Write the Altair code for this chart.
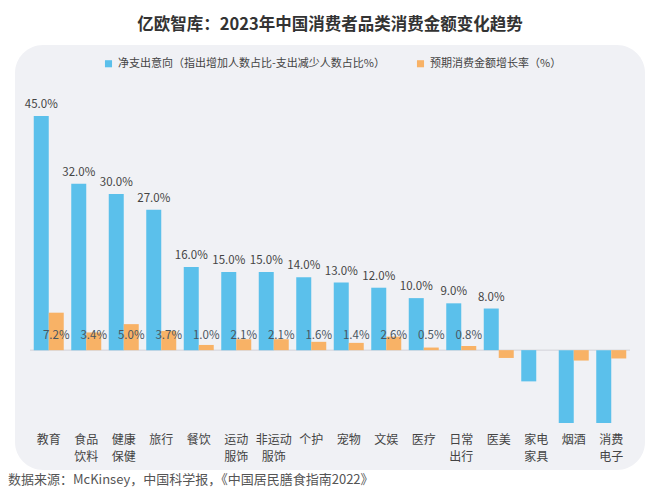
import altair as alt
import pandas as pd

categories = ["教育", "食品饮料", "健康保健", "旅行", "餐饮", "运动服饰", "非运动服饰", "个护",
              "宠物", "文娱", "医疗", "日常出行", "医美", "家电家具", "烟酒", "消费电子"]
net_intent = [45.0, 32.0, 30.0, 27.0, 16.0, 15.0, 15.0, 14.0, 13.0, 12.0, 10.0, 9.0, 8.0, -6.0, -14.0, -14.0]
growth_rate = [7.2, 3.4, 5.0, 3.7, 1.0, 2.1, 2.1, 1.6, 1.4, 2.6, 0.5, 0.8, -1.5, None, -2.0, -1.6]
series_names = ["净支出意向（指出增加人数占比-支出减少人数占比%）", "预期消费金额增长率（%）"]
colors = ["#5BC0EB", "#F8B266"]
title_text = "亿欧智库：2023年中国消费者品类消费金额变化趋势"
source_text = "数据来源：McKinsey，中国科学报，《中国居民膳食指南2022》"

FONT = "Noto Sans CJK SC"

rows = []
for c, a, b in zip(categories, net_intent, growth_rate):
    rows.append({"category": c, "series": series_names[0], "value": a,
                 "label": f"{a:.1f}%"})
    if b is not None:
        rows.append({"category": c, "series": series_names[1], "value": b,
                     "label": f"{b:.1f}%"})
df = pd.DataFrame(rows)

one = pd.DataFrame({"y0": [0]})

label_expr = ("datum.label == '非运动服饰' ? ['非运动', '服饰'] : "
              "(length(datum.label) == 4 ? [substring(datum.label, 0, 2), substring(datum.label, 2, 4)] : datum.label)")

x_enc = alt.X("category:N", sort=categories,
              scale=alt.Scale(paddingInner=0.2, paddingOuter=0.1),
              axis=alt.Axis(title=None, orient="bottom", domain=False, ticks=False,
                            labelAngle=0, labelExpr=label_expr, labelFontSize=12,
                            labelColor="#444444", labelFont=FONT, labelPadding=11,
                            labelBaseline="top", labelLineHeight=17, grid=False,
                            zindex=2))
y_scale = alt.Scale(domain=[-14, 45], nice=False, zero=False)
y_enc = alt.Y("value:Q", scale=y_scale, axis=None)
color_enc = alt.Color("series:N", sort=series_names,
                      scale=alt.Scale(domain=series_names, range=colors),
                      legend=alt.Legend(title=None, orient="none", legendX=73, legendY=-58,
                                        direction="horizontal", symbolType="square",
                                        symbolSize=50, labelFontSize=11, labelFont=FONT,
                                        labelColor="#444444", labelLimit=500,
                                        columnPadding=30, symbolStrokeWidth=0))

BW = 15
OFF = 7.5

panel = alt.Chart(one).mark_rect(color="#F0F1F5", cornerRadius=28).encode(
    x=alt.value(-15), x2=alt.value(615), y=alt.value(-71), y2=alt.value(354)
)

zero_rule = alt.Chart(one).mark_rule(color="#D3D3D8", strokeWidth=1).encode(
    y=alt.Y("y0:Q", scale=y_scale, axis=None)
)

base = alt.Chart(df)
is_blue = alt.datum.series == series_names[0]
is_orange = alt.datum.series == series_names[1]

blue_bars = base.transform_filter(is_blue).mark_bar(width=BW, xOffset=-OFF).encode(
    x=x_enc, y=y_enc, color=color_enc
)
orange_bars = base.transform_filter(is_orange).mark_bar(width=BW, xOffset=OFF).encode(
    x=x_enc, y=y_enc, color=color_enc
)

blue_labels = base.transform_filter(is_blue & (alt.datum.value > 0)).mark_text(
    baseline="bottom", dy=-6, dx=-OFF, fontSize=11.5, font=FONT, color="#444444"
).encode(x=x_enc, y=y_enc, text="label:N")

orange_labels = base.transform_filter(is_orange & (alt.datum.value > 0)).mark_text(
    baseline="middle", dy=-14, dx=OFF, fontSize=11.5, font=FONT, color="#4A5560"
).encode(x=x_enc, y=alt.datum(0), text="label:N")

source = alt.Chart(one).mark_text(align="left", baseline="middle", fontSize=13,
                                  font=FONT, color="#555555").encode(
    x=alt.value(-22), y=alt.value(364), text=alt.value(source_text)
)

chart = alt.layer(panel, zero_rule, blue_bars, orange_bars, blue_labels, orange_labels, source).properties(
    width=600, height=307,
    title=alt.Title(title_text, fontSize=16.5, fontWeight="bold", color="#333333",
                    font=FONT, anchor="middle", frame="group", offset=12),
    autosize=alt.AutoSizeParams(type="none"),
    padding={"left": 30, "top": 116, "right": 30, "bottom": 76},
    background="#FFFFFF",
).configure_view(stroke=None)

chart.save("out.html", embed_options={"renderer": "svg", "actions": False})
